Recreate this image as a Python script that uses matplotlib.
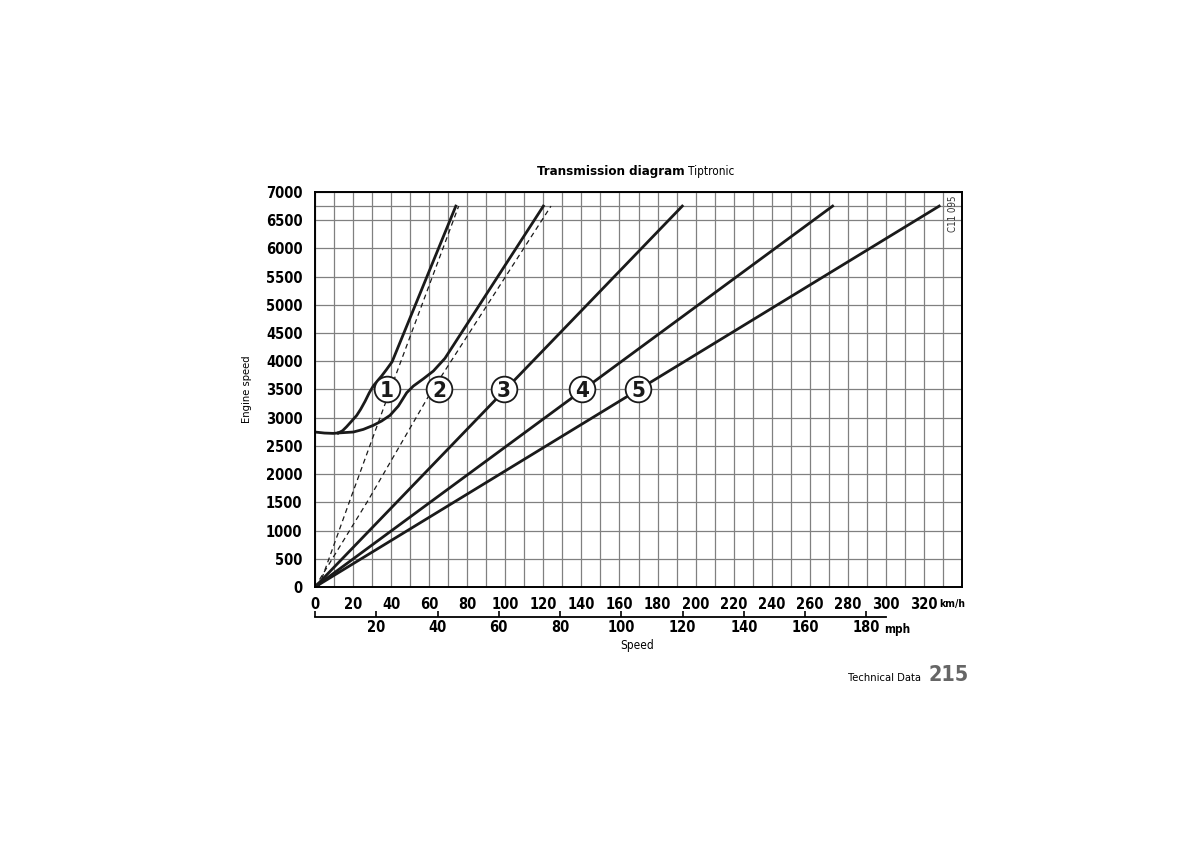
import numpy as np
import matplotlib
matplotlib.use("Agg")
import matplotlib.pyplot as plt

plt.rcParams['font.family'] = ['DejaVu Sans']
plt.rcParams['font.stretch'] = 'condensed'

# converter region (common start of gear 1/2 curves)
conv_kmh = [0, 5, 9.6, 12.3]
conv_rpm = [2746, 2728, 2722, 2730]

# gear 1 (solid)
g1_kmh = [12.3, 14.5, 16.6, 19.0, 21.9, 24.0, 26.3, 28.5, 30.6, 33.0, 35.0, 37.5, 40.5, 74]
g1_rpm = [2730, 2770, 2840, 2930, 3040, 3150, 3290, 3440, 3561, 3660, 3739, 3850, 3990, 6750]

# gear 2 (solid)
g2_kmh = [12.3, 20.1, 25.4, 30.6, 35.0, 39.4, 43.8, 48.2, 51.7, 57.0, 62.2, 68.3, 120]
g2_rpm = [2730, 2746, 2793, 2864, 2941, 3041, 3207, 3443, 3561, 3691, 3827, 4053, 6750]

# gears 3-5 straight from origin
g3_kmh, g3_rpm = [0, 193], [0, 6750]
g4_kmh, g4_rpm = [0, 272], [0, 6750]
g5_kmh, g5_rpm = [0, 328], [0, 6750]

# dashed lines (gear 1 / gear 2 without slip)
d1_kmh = [2, 18.4, 37.7, 75.5]
d1_rpm = [0, 1540, 3325, 6750]
d2_kmh = [0, 28, 60, 124]
d2_rpm = [0, 1540, 3400, 6750]

# gear number labels
gear_labels = ['1', '2', '3', '4', '5']
label_kmh = [37.6, 65.3, 99.3, 140.3, 169.7]
label_rpm = [3500, 3500, 3500, 3500, 3500]

kmh_ticks = list(range(0, 321, 20))
mph_ticks = [20, 40, 60, 80, 100, 120, 140, 160, 180]
rpm_ticks = list(range(0, 7001, 500))

fig = plt.figure(figsize=(12, 8.48), dpi=100)
ax = fig.add_axes([0.2625, 0.3078, 0.5392, 0.4658])

ax.set_xlim(0, 340)
ax.set_ylim(0, 7000)

# grid
ax.set_xticks(range(0, 341, 10))
ax.set_xticklabels([str(v) if (v % 20 == 0 and v <= 320) else '' for v in range(0, 341, 10)])
ax.set_yticks(rpm_ticks)
ax.set_yticklabels([str(v) for v in rpm_ticks])
ax.grid(True, color='#808080', lw=0.9)
ax.axhline(6750, color='#808080', lw=0.9)
ax.set_axisbelow(True)
ax.tick_params(length=0, labelsize=10.5, pad=9)
ax.tick_params(axis='x', pad=7)
for lab in ax.get_xticklabels() + ax.get_yticklabels():
    lab.set_fontweight('bold')
for s in ax.spines.values():
    s.set_linewidth(1.4)

lw = 2.0
ax.plot(conv_kmh, conv_rpm, color='#1a1a1a', lw=lw, solid_capstyle='round')
ax.plot(g1_kmh, g1_rpm, color='#1a1a1a', lw=lw, solid_joinstyle='round')
ax.plot(g2_kmh, g2_rpm, color='#1a1a1a', lw=lw, solid_joinstyle='round')
ax.plot(g3_kmh, g3_rpm, color='#1a1a1a', lw=lw)
ax.plot(g4_kmh, g4_rpm, color='#1a1a1a', lw=lw)
ax.plot(g5_kmh, g5_rpm, color='#1a1a1a', lw=lw)
ax.plot(d1_kmh, d1_rpm, color='#1a1a1a', lw=0.9, dashes=(4, 3))
ax.plot(d2_kmh, d2_rpm, color='#1a1a1a', lw=0.9, dashes=(4, 3))

for x, y, t in zip(label_kmh, label_rpm, gear_labels):
    ax.plot(x, y, 'o', ms=18.5, mfc='white', mec='#1a1a1a', mew=1.3, zorder=5)
    ax.text(x, y - 20, t, ha='center', va='center', fontsize=16, fontweight='bold',
            color='#1a1a1a', zorder=6)

ax.annotate('km/h', xy=(340, 0), xycoords=('data', 'axes fraction'), xytext=(2.5, -12),
            textcoords='offset points', ha='right', va='center', fontsize=7.5,
            fontweight='bold')

ax.text(0.993, 0.99, 'C11 095', rotation=90, ha='right', va='top', fontsize=7,
        color='#333', transform=ax.transAxes)

ax.set_ylabel('Engine speed', fontsize=8, labelpad=10)

# mph scale below
mph = fig.add_axes([0.2625, 0.2724, 0.5392, 0.0001])
mph.set_xlim(0, 340)
mph.set_ylim(0, 1)
for k in ['top', 'left', 'right']:
    mph.spines[k].set_visible(False)
mph.spines['bottom'].set_bounds(0, 300)
mph.spines['bottom'].set_linewidth(1.3)
mph.set_yticks([])
mph.set_xticks([0] + [m * 1.609344 for m in mph_ticks])
mph.set_xticklabels([''] + [str(m) for m in mph_ticks])
mph.tick_params(axis='x', direction='in', length=4, width=1.2, labelsize=10.5, pad=2)
for lab in mph.get_xticklabels():
    lab.set_fontweight('bold')
mph.patch.set_visible(False)
mph.annotate('mph', xy=(299, 0), xycoords=('data', 'axes fraction'), xytext=(0, -9),
             textcoords='offset points', ha='left', va='center', fontsize=8.5,
             fontweight='bold')

fig.text(637 / 1200, 1 - 646 / 848, 'Speed', ha='center', va='center', fontsize=8.5)

# title: bold part + normal part
fig.text(685 / 1200, 1 - 172 / 848, 'Transmission diagram', ha='right', va='center',
         fontsize=9.5, fontweight='bold')
fig.text(688 / 1200, 1 - 172 / 848, 'Tiptronic', ha='left', va='center', fontsize=8.5)

fig.text(921 / 1200, 1 - 678 / 848, 'Technical Data', ha='right', va='center', fontsize=8)
fig.text(929 / 1200, 1 - 675 / 848, '215', ha='left', va='center', fontsize=15.5,
         fontweight='bold', color='#666')

fig.savefig('out.png', dpi=100)
